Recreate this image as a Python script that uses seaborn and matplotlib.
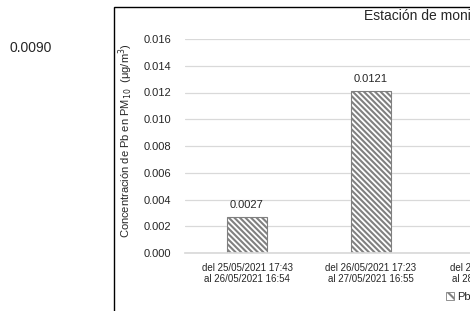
import matplotlib
matplotlib.use("Agg")

import matplotlib.pyplot as plt
import pandas as pd
import seaborn as sns
from matplotlib.patches import Rectangle, Patch

# Data (third bar is cut off in the reference)
periods = [
    "del 25/05/2021 17:43\nal 26/05/2021 16:54",
    "del 26/05/2021 17:23\nal 27/05/2021 16:55",
    "del 27/05/2021 17:25\nal 28/05/2021 16:50",
]
pb_values = [0.0027, 0.0121, 0.0090]
yticks = [0.000, 0.002, 0.004, 0.006, 0.008, 0.010, 0.012, 0.014, 0.016]

df = pd.DataFrame({"periodo": periods, "Pb": pb_values})

sns.set_theme(style="white")
plt.rcParams["font.family"] = ["Liberation Sans", "DejaVu Sans"]
plt.rcParams["hatch.color"] = "#8a8a8a"
plt.rcParams["hatch.linewidth"] = 1.5

W, H = 470, 311
fig = plt.figure(figsize=(W / 100, H / 100), dpi=100)

# outer chart frame (cropped on the right and bottom)
fig.patches.append(Rectangle((114 / W, -0.1), 1.0, 1 - 7 / H + 0.1,
                             transform=fig.transFigure, fill=False,
                             edgecolor="black", linewidth=1.0))

ax = fig.add_axes([185 / W, 58 / H, 372 / W, (253 - 39) / H])
sns.barplot(data=df, x="periodo", y="Pb", ax=ax, width=0.32,
            color="white", edgecolor="#808080", linewidth=0.8,
            hatch="\\\\\\\\\\\\")

ax.set_xlim(-0.5, 2.5)
ax.set_ylim(0, 0.016)
ax.set_yticks(yticks)
ax.set_yticklabels([f"{v:.3f}" for v in yticks], fontsize=8)
ax.tick_params(axis="y", length=0, pad=10)
ax.tick_params(axis="x", length=0, pad=7, labelsize=7)
ax.yaxis.grid(True, color="#d9d9d9", linewidth=0.9)
ax.set_axisbelow(True)
for s in ["top", "right", "left"]:
    ax.spines[s].set_visible(False)
ax.spines["bottom"].set_color("#d9d9d9")
ax.set_xlabel("")
ax.set_ylabel(r"Concentración de Pb en PM$_{10}$  (μg/m$^3$)", fontsize=8)
ax.yaxis.set_label_coords(-0.135, 0.523)

ax.bar_label(ax.containers[0], fmt="%.4f", padding=5, fontsize=8)

fig.text(364 / W, 1 - 16 / H, "Estación de monitoreo", fontsize=10,
         ha="left", va="center")
fig.text(10 / W, 1 - 48 / H, "0.0090", fontsize=10, ha="left", va="center")

handle = Patch(facecolor="white", edgecolor="#808080", hatch="\\\\\\",
               linewidth=0.6)
fig.legend([handle], ["Pb"], loc="center left",
           bbox_to_anchor=(446 / W, 1 - 297 / H), frameon=False,
           fontsize=8, handlelength=0.7, handleheight=0.7,
           handletextpad=0.3, borderpad=0, borderaxespad=0)

fig.savefig("out.png", dpi=100)
